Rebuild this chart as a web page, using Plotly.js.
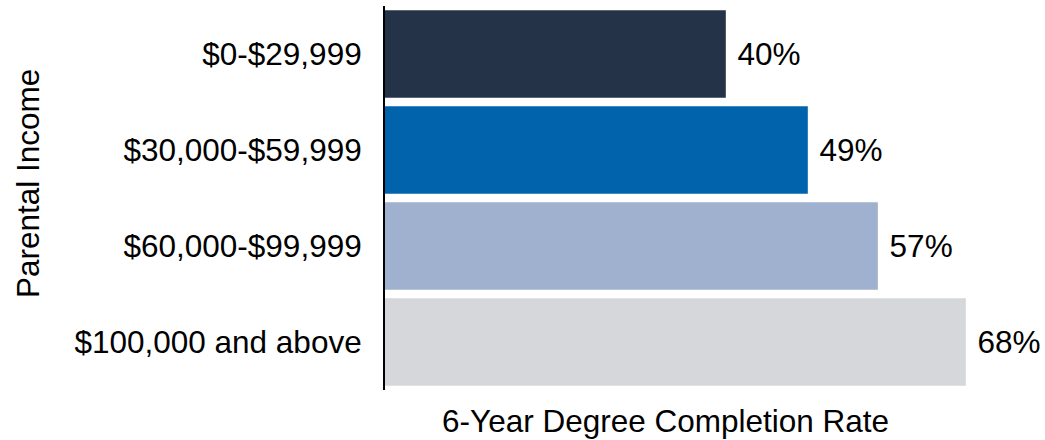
<!DOCTYPE html>
<html>
<head>
<meta charset="utf-8">
<script src="https://cdn.plot.ly/plotly-3.0.1.min.js"></script>
<style>html,body{margin:0;padding:0;background:#fff;}#chart{width:1045px;height:440px;}</style>
</head>
<body>
<div id="chart"></div>
<script>
var categories = ["$0-$29,999", "$30,000-$59,999", "$60,000-$99,999", "$100,000 and above"];
var completionRate = [39.9, 49.5, 57.7, 68.0];
var valueLabels = ["40%", "49%", "57%", "68%"];
var barColors = ["#253349", "#0063AC", "#9FB1CF", "#D5D7DA"];
var xTitle = "6-Year Degree Completion Rate";
var yTitle = "Parental Income";

var FONT = "Liberation Sans, Arial, sans-serif";
var FS = 31.5;

var trace = {
  type: "bar",
  orientation: "h",
  y: categories,
  x: completionRate,
  text: valueLabels.map(function (t) { return " " + t; }),
  textposition: "outside",
  cliponaxis: false,
  textfont: {family: FONT, size: FS, color: "#000"},
  marker: {color: barColors, line: {width: 0}},
  hoverinfo: "none"
};

var layout = {
  width: 1045,
  height: 440,
  margin: {l: 385, r: 45, t: 6, b: 50},
  paper_bgcolor: "#fff",
  plot_bgcolor: "#fff",
  showlegend: false,
  bargap: 0.09,
  font: {family: FONT, size: FS, color: "#000"},
  xaxis: {
    range: [0, 72],
    showgrid: false,
    zeroline: false,
    showticklabels: false,
    showline: false,
    ticks: "",
    fixedrange: true
  },
  yaxis: {
    autorange: "reversed",
    showgrid: false,
    zeroline: false,
    showline: true,
    linecolor: "#000",
    linewidth: 2,
    ticks: "",
    ticklabelstandoff: 15,
    tickfont: {family: FONT, size: FS, color: "#000"},
    fixedrange: true
  },
  annotations: [
    {text: xTitle, xref: "paper", yref: "paper", x: (665 - 385) / 615, y: -(421 - 390) / 384, xanchor: "center", yanchor: "middle", showarrow: false, font: {family: FONT, size: FS, color: "#000"}},
    {text: yTitle, xref: "paper", yref: "paper", x: -(385 - 28) / 615, y: (390 - 184) / 384, xanchor: "center", yanchor: "middle", textangle: -90, showarrow: false, font: {family: FONT, size: FS, color: "#000"}}
  ]
};

Plotly.newPlot("chart", [trace], layout, {displayModeBar: false, staticPlot: true});
</script>
</body>
</html>
